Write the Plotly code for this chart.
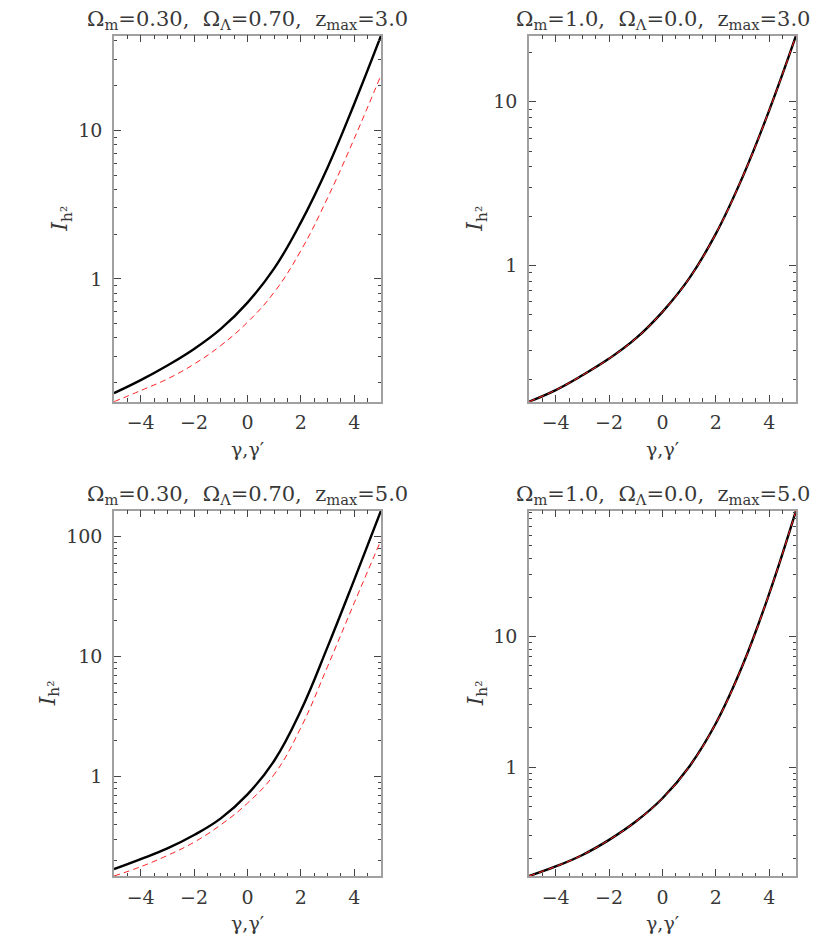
import numpy as np
import plotly.graph_objects as go

# gamma values (x axis)
gamma = [-5, -4, -3, -2, -1, 0, 1, 2, 3, 4, 5]

# Omega_m=0.30, Omega_L=0.70, zmax=3
p1_black = [0.170, 0.208, 0.261, 0.337, 0.460, 0.692, 1.175, 2.40, 5.62, 15.1, 43.3]
p1_red = [0.149, 0.177, 0.212, 0.267, 0.356, 0.511, 0.813, 1.55, 3.51, 8.81, 23.5]
# Omega_m=1.0, Omega_L=0.0, zmax=3
p2_black = [0.146, 0.172, 0.212, 0.268, 0.356, 0.518, 0.83, 1.56, 3.47, 8.9, 25.4]
p2_red = [0.146, 0.172, 0.212, 0.268, 0.356, 0.518, 0.83, 1.56, 3.47, 8.9, 25.4]
# Omega_m=0.30, Omega_L=0.70, zmax=5
p3_black = [0.170, 0.206, 0.253, 0.327, 0.450, 0.713, 1.36, 3.57, 12.1, 44.0, 165.0]
p3_red = [0.149, 0.178, 0.221, 0.285, 0.398, 0.603, 1.047, 2.57, 8.32, 28.2, 93.8]
# Omega_m=1.0, Omega_L=0.0, zmax=5
p4_black = [0.147, 0.174, 0.213, 0.278, 0.384, 0.579, 1.01, 2.17, 6.03, 21.4, 92.1]
p4_red = [0.147, 0.174, 0.213, 0.278, 0.384, 0.579, 1.01, 2.17, 6.03, 21.4, 92.1]

titles = ["Ω<sub>m</sub>=0.30,  Ω<sub>Λ</sub>=0.70,  z<sub>max</sub>=3.0",
          "Ω<sub>m</sub>=1.0,  Ω<sub>Λ</sub>=0.0,  z<sub>max</sub>=3.0",
          "Ω<sub>m</sub>=0.30,  Ω<sub>Λ</sub>=0.70,  z<sub>max</sub>=5.0",
          "Ω<sub>m</sub>=1.0,  Ω<sub>Λ</sub>=0.0,  z<sub>max</sub>=5.0"]
ytick_vals = [1, 10, 100]
ytick_text = ["1", "10", "100"]
xtick_vals = [-4, -2, 0, 2, 4]
xtick_text = ["\u22124", "\u22122", "0", "2", "4"]

# page body has an 8px margin, so the figure is drawn 8px smaller and shifted
OFF = 8
W, H = 830 - OFF, 949 - OFF
FONT = "DejaVu Serif, Liberation Serif, serif"
TXT = "#383838"


def px(v):
    return (v - OFF) / W


def py(v):
    return 1 - (v - OFF) / H


panels = [(p1_black, p1_red), (p2_black, p2_red), (p3_black, p3_red), (p4_black, p4_red)]
xdoms = [[px(114), px(381)], [px(529), px(796)]]
ydoms = [[py(401.7), py(35.7)], [py(876), py(510.7)]]
ylab_off = [52, 52, 65, 52]

fig = go.Figure()
annotations = []
for i, (blk, red) in enumerate(panels):
    n = i + 1
    xd = xdoms[i % 2]
    yd = ydoms[i // 2]
    xa = "x" if n == 1 else "x%d" % n
    ya = "y" if n == 1 else "y%d" % n
    fig.add_trace(go.Scatter(x=gamma, y=blk, mode="lines",
                             line=dict(color="black", width=2.4, shape="spline", smoothing=1.2),
                             xaxis=xa, yaxis=ya, showlegend=False))
    fig.add_trace(go.Scatter(x=gamma, y=red, mode="lines",
                             line=dict(color="#ff2020", width=1, dash="6px,4px", shape="spline", smoothing=1.2),
                             xaxis=xa, yaxis=ya, showlegend=False))
    lo = np.log10(min(min(blk), min(red)))
    hi = np.log10(max(max(blk), max(red)))
    axis_common = dict(showline=True, linecolor="#a0a0a0", linewidth=1.5, mirror="allticks", ticks="inside",
                       tickcolor="#444444", tickwidth=1, ticklen=7, showgrid=False, zeroline=False,
                       tickfont=dict(family=FONT, size=19, color=TXT))
    fig.layout["xaxis" if n == 1 else "xaxis%d" % n] = dict(
        axis_common, domain=xd, anchor=ya, range=[-5, 5], tickvals=xtick_vals, ticktext=xtick_text,
        minor=dict(ticks="inside", ticklen=3.5, dtick=0.5, tickcolor="#444444"), ticklabelstandoff=3)
    fig.layout["yaxis" if n == 1 else "yaxis%d" % n] = dict(
        axis_common, domain=yd, anchor=xa, type="log", range=[lo, hi], tickvals=ytick_vals, ticktext=ytick_text,
        minor=dict(ticks="inside", ticklen=3.5, dtick="D1", tickcolor="#444444"), ticklabelstandoff=6)
    annotations.append(dict(text=titles[i], x=(xd[0] + xd[1]) / 2, y=yd[1], xref="paper", yref="paper",
                            xanchor="center", yanchor="bottom", yshift=1, showarrow=False,
                            font=dict(family=FONT, size=21, color=TXT)))
    annotations.append(dict(text="\u03b3,\u03b3\u2032", x=(xd[0] + xd[1]) / 2, y=yd[0], xref="paper", yref="paper",
                            xanchor="center", yanchor="top", yshift=-34, showarrow=False,
                            font=dict(family=FONT, size=19, color=TXT)))
    annotations.append(dict(text="<i>I</i><sub>h\u00b2</sub>", x=xd[0] - ylab_off[i] / W, y=(yd[0] + yd[1]) / 2,
                            xref="paper", yref="paper", xanchor="center", yanchor="middle", textangle=-90,
                            showarrow=False, font=dict(family=FONT, size=22, color=TXT)))

fig.update_layout(width=W, height=H, margin=dict(l=0, r=0, t=0, b=0), plot_bgcolor="white",
                  paper_bgcolor="white", annotations=annotations)
fig.write_html("out.html")
